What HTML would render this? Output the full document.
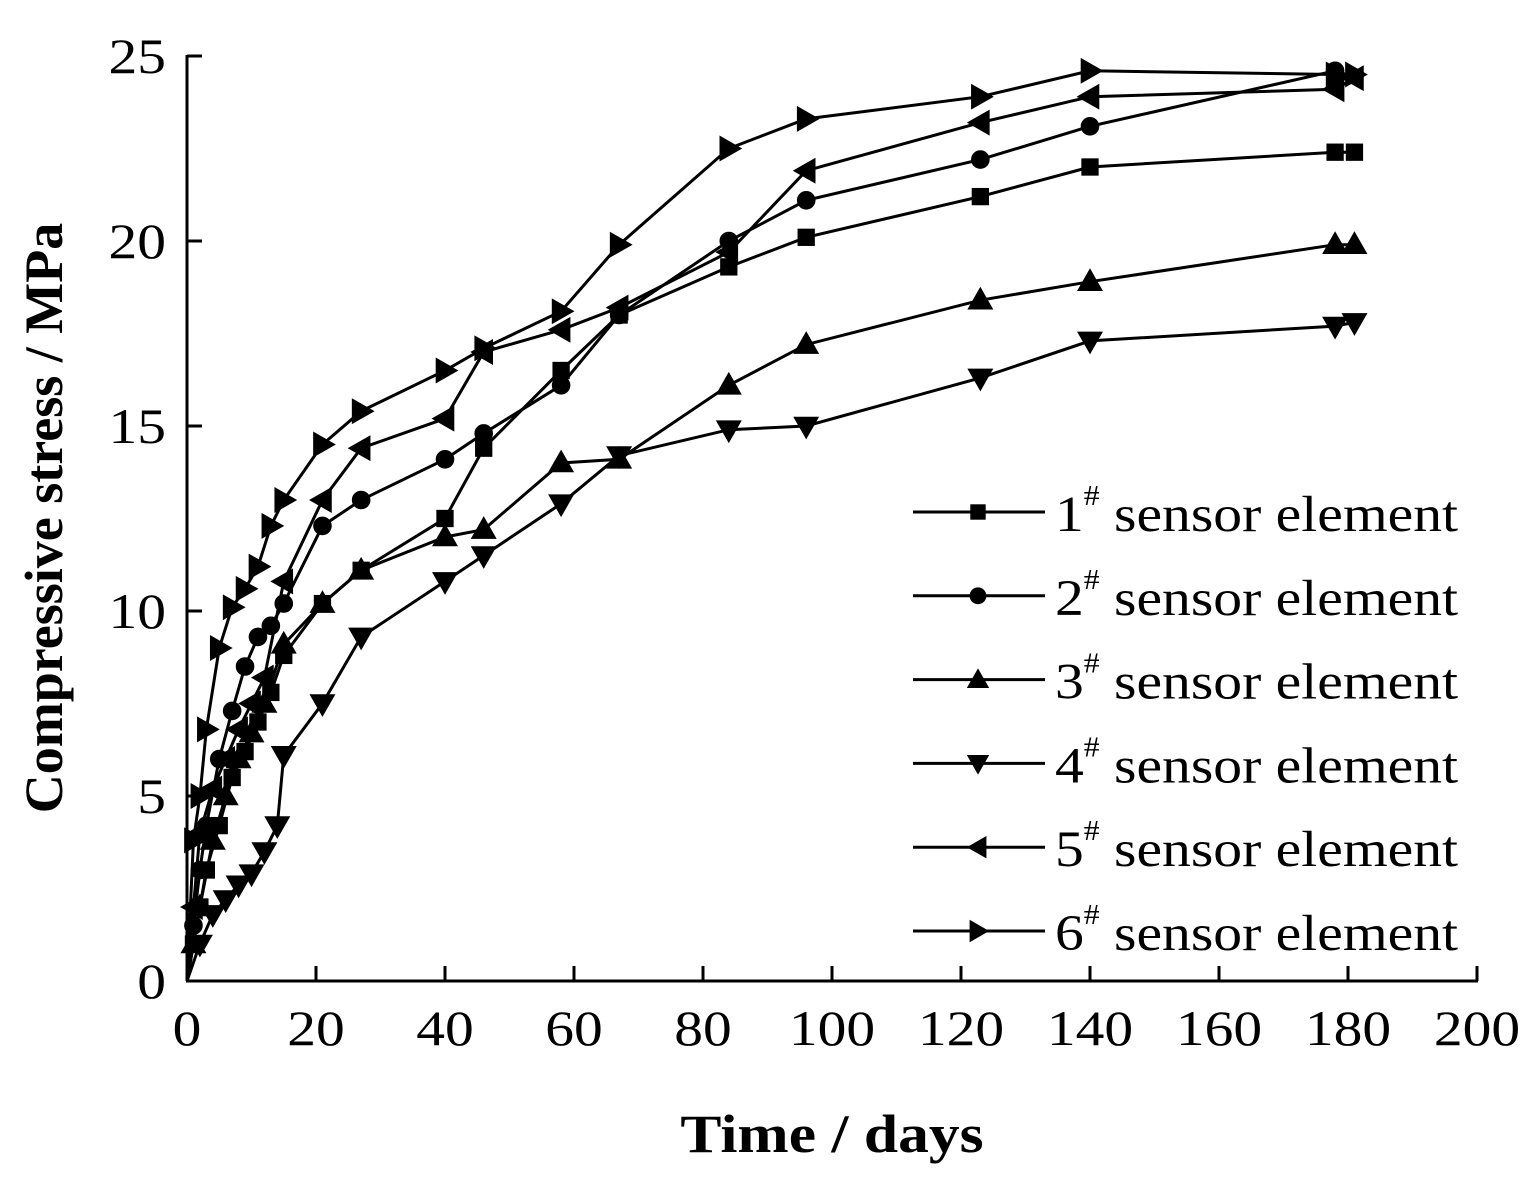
<!DOCTYPE html>
<html><head><meta charset="utf-8"><style>
html,body{margin:0;padding:0;background:#fff;}
svg{display:block;}
text{font-family:"Liberation Serif",serif;fill:#000;}
</style></head><body>
<svg id="c" width="1540" height="1194" viewBox="0 0 1540 1194" xmlns="http://www.w3.org/2000/svg">
<g stroke="#000" stroke-width="3" fill="none">
<line x1="187" y1="55" x2="187" y2="981"/>
<line x1="186" y1="981" x2="1478" y2="981"/>
</g>
<g id="ticks" stroke="#000" stroke-width="3"></g>
<g id="labels" font-size="50"></g>
<text transform="translate(832,1152) scale(1.14,1)" font-size="54" font-weight="bold" text-anchor="middle">Time / days</text>
<text transform="translate(62,518) rotate(-90)" font-size="54" font-weight="bold" text-anchor="middle">Compressive stress / MPa</text>
<g id="series" stroke="#000" stroke-width="3" fill="none"></g>
<g id="legend"></g>
</svg>
<script>
const NS="http://www.w3.org/2000/svg";
const px=x=>187+6.45*x, py=y=>981-37*y;
function el(t,a,p){const e=document.createElementNS(NS,t);for(const k in a)e.setAttribute(k,a[k]);p.appendChild(e);return e;}
const T=document.getElementById('ticks'),L=document.getElementById('labels');
for(let x=0;x<=200;x+=20){el('line',{x1:px(x),y1:981,x2:px(x),y2:966},T);const t=el('text',{transform:`translate(${px(x)},1045) scale(1.15,1)`,'text-anchor':'middle'},L);t.textContent=x;}
for(let y=0;y<=25;y+=5){el('line',{x1:187,y1:py(y),x2:202,y2:py(y)},T);const t=el('text',{transform:`translate(166,${py(y)+17}) scale(1.15,1)`,'text-anchor':'end'},L);t.textContent=y;}
const data=[
['s',[[0,0],[1,1],[2,2],[3,3],[5,4.2],[7,5.5],[9,6.2],[11,7],[13,7.8],[15,8.8],[21,10.2],[27,11.1],[40,12.5],[46,14.4],[58,16.5],[67,18],[84,19.3],[96,20.1],[123,21.2],[140,22],[178,22.4],[181,22.4]]],
['c',[[0,0],[1,1.5],[2,3],[3,4.2],[5,6],[7,7.3],[9,8.5],[11,9.3],[13,9.6],[15,10.2],[21,12.3],[27,13],[40,14.1],[46,14.8],[58,16.1],[67,18],[84,20],[96,21.1],[123,22.2],[140,23.1],[178,24.6]]],
['u',[[0,0],[1,1],[2,2],[4,3.8],[6,5],[8,6],[10,6.7],[12,7.5],[15,9.1],[21,10.2],[27,11.1],[40,12],[46,12.2],[58,14],[67,14.1],[84,16.1],[96,17.2],[123,18.4],[140,18.9],[178,19.9],[181,19.9]]],
['d',[[0,0],[2,1],[4,1.8],[6,2.2],[8,2.6],[10,2.9],[12,3.5],[14,4.2],[15,6.1],[21,7.5],[27,9.3],[40,10.8],[46,11.5],[58,12.9],[67,14.2],[84,14.9],[96,15],[123,16.3],[140,17.3],[178,17.7],[181,17.8]]],
['l',[[0,0],[1,2],[2,4],[4,5.2],[6,6],[8,6.8],[10,7.5],[12,8.2],[15,10.8],[21,13],[27,14.4],[40,15.2],[46,17],[58,17.6],[67,18.2],[84,19.7],[96,21.9],[123,23.2],[140,23.9],[178,24.1],[181,24.4]]],
['r',[[0,0],[1,3.8],[2,5],[3,6.8],[5,9],[7,10.1],[9,10.6],[11,11.2],[13,12.3],[15,13],[21,14.5],[27,15.4],[40,16.5],[46,17.1],[58,18.1],[67,19.9],[84,22.5],[96,23.3],[123,23.9],[140,24.6],[178,24.5],[181,24.5]]]];
function marker(t,x,y,s,p){
 if(t=='s')el('rect',{x:x-s*0.55,y:y-s*0.55,width:s*1.1,height:s*1.1,fill:'#000'},p);
 else if(t=='c')el('circle',{cx:x,cy:y,r:s*0.6,fill:'#000'},p);
 else{let pts;
  if(t=='u')pts=[[x,y-s*0.8],[x-s*0.8,y+s*0.6],[x+s*0.8,y+s*0.6]];
  if(t=='d')pts=[[x,y+s*0.8],[x-s*0.8,y-s*0.6],[x+s*0.8,y-s*0.6]];
  if(t=='l')pts=[[x-s*0.8,y],[x+s*0.6,y-s*0.8],[x+s*0.6,y+s*0.8]];
  if(t=='r')pts=[[x+s*0.8,y],[x-s*0.6,y-s*0.8],[x-s*0.6,y+s*0.8]];
  el('polygon',{points:pts.map(q=>q.join(',')).join(' '),fill:'#000'},p);}
}
const S=document.getElementById('series'),G=document.getElementById('legend');
data.forEach(([t,d])=>{
 el('polyline',{points:d.map(q=>px(q[0])+','+py(q[1])).join(' ')},S);
 d.forEach(q=>{if(q[0]>0)marker(t,px(q[0]),py(q[1]),13,S);});
});
data.forEach(([t],i)=>{
 const y=512+83.8*i;
 el('line',{x1:913,y1:y,x2:1045,y2:y,stroke:'#000','stroke-width':3},G);
 marker(t,978,y,14,G);
 const tx=el('text',{transform:`translate(1055,${y+19}) scale(1.13,1)`,'font-size':51},G);
 tx.innerHTML=(i+1)+'<tspan dy="-26" font-size="28">#</tspan><tspan dy="26"> sensor element</tspan>';
});
</script>
</body></html>
